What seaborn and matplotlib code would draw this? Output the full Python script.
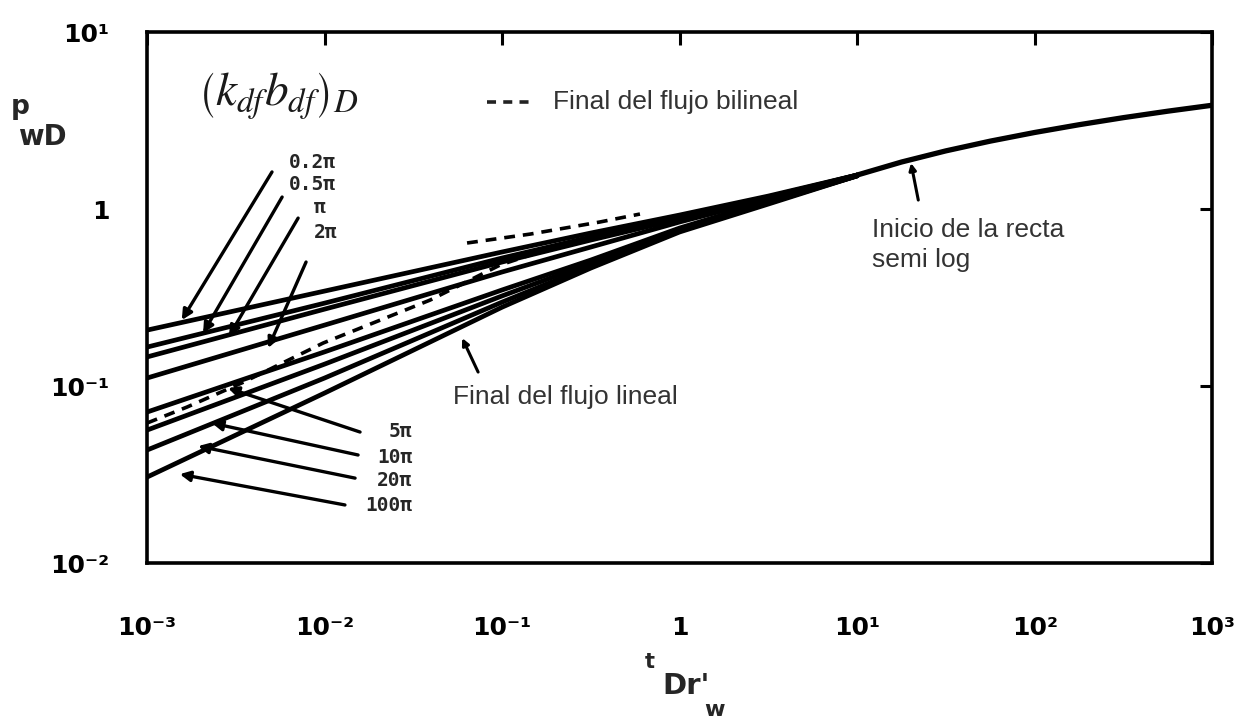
import numpy as np
import pandas as pd
import matplotlib
matplotlib.use("Agg")
import matplotlib.pyplot as plt
import seaborn as sns

# Dimensionless time t_Dr'w at which each curve was read
t_grid = [0.001, 0.01, 0.1, 0.316, 1.0, 3.16, 10.0]

# Dimensionless wellbore pressure p_wD for each fracture conductivity (k_df b_df)_D
curve_labels = ["0.2π", "0.5π", "π", "2π", "5π", "10π", "20π", "100π"]
p_02pi = [0.207, 0.344, 0.572, 0.732, 0.925, 1.184, 1.556]
p_05pi = [0.166, 0.294, 0.529, 0.695, 0.901, 1.169, 1.556]
p_1pi = [0.146, 0.272, 0.502, 0.668, 0.878, 1.154, 1.556]
p_2pi = [0.111, 0.221, 0.441, 0.610, 0.845, 1.139, 1.556]
p_5pi = [0.0713, 0.156, 0.349, 0.515, 0.781, 1.110, 1.540]
p_10pi = [0.0564, 0.133, 0.323, 0.495, 0.761, 1.095, 1.540]
p_20pi = [0.0435, 0.111, 0.298, 0.476, 0.751, 1.081, 1.540]
p_100pi = [0.0306, 0.0913, 0.279, 0.464, 0.742, 1.067, 1.540]

# Common semi-log tail
t_tail = [10.0, 17.8, 31.6, 56.2, 100.0, 178.0, 316.0, 562.0, 1000.0]
p_tail = [1.556, 1.844, 2.131, 2.419, 2.707, 2.995, 3.283, 3.571, 3.858]

# End of bilinear flow (dashed locus)
t_bil_low = [0.001, 0.00168, 0.00348, 0.00982, 0.0393, 0.0975, 0.212]
p_bil_low = [0.0618, 0.0761, 0.105, 0.175, 0.306, 0.483, 0.626]
t_bil_high = [0.0635, 0.144, 0.356, 0.598]
p_bil_high = [0.643, 0.722, 0.845, 0.937]

x_ticks = [1e-3, 1e-2, 1e-1, 1, 10, 100, 1000]
x_ticklabels = ["10⁻³", "10⁻²", "10⁻¹", "1", "10¹", "10²", "10³"]
y_ticks = [1e-2, 1e-1, 1, 10]
y_ticklabels = ["10⁻²", "10⁻¹", "1", "10¹"]

sns.set_style("white")
plt.rcParams["font.family"] = ["DejaVu Sans"]
plt.rcParams["mathtext.fontset"] = "stix"

all_curves = [p_02pi, p_05pi, p_1pi, p_2pi, p_5pi, p_10pi, p_20pi, p_100pi]
rows = []
for lab, vals in zip(curve_labels, all_curves):
    for t, p in zip(t_grid, vals):
        rows.append({"t": t, "p": p, "curve": lab})
df = pd.DataFrame(rows)
tail_df = pd.DataFrame({"t": t_tail, "p": p_tail})

fig = plt.figure(figsize=(12.51, 7.21), dpi=100)
ax = fig.add_axes([0.1175, 0.219, 0.8515, 0.7366])

LW = 3.4
sns.lineplot(data=df, x="t", y="p", hue="curve", palette=["black"] * 8,
             estimator=None, sort=False, legend=False, lw=LW, ax=ax)
sns.lineplot(data=tail_df, x="t", y="p", color="black", lw=LW + 0.4,
             estimator=None, sort=False, ax=ax)
ax.plot(t_bil_low, p_bil_low, color="black", lw=2.6, ls=(0, (3, 2.2)))
ax.plot(t_bil_high, p_bil_high, color="black", lw=2.6, ls=(0, (3, 2.2)))

ax.set_xscale("log")
ax.set_yscale("log")
ax.set_xlim(1e-3, 1e3)
ax.set_ylim(1e-2, 1e1)
ax.set_xticks(x_ticks)
ax.set_xticklabels(x_ticklabels)
ax.set_yticks(y_ticks)
ax.set_yticklabels(y_ticklabels)
ax.minorticks_off()
ax.tick_params(axis="both", which="major", direction="in", length=9, width=2.2,
               top=True, right=True, labelsize=18, colors="black")
ax.tick_params(axis="x", pad=38)
ax.tick_params(axis="y", pad=27)
for lbl in ax.get_xticklabels() + ax.get_yticklabels():
    lbl.set_fontweight("bold")
for s in ax.spines.values():
    s.set_linewidth(2.6)
    s.set_color("black")
ax.set_xlabel("")
ax.set_ylabel("")

# Axis titles
fig.text(20 / 1251, 1 - 107 / 721, "p", fontsize=19, fontweight="bold", ha="center", va="center")
fig.text(42 / 1251, 1 - 137 / 721, "wD", fontsize=20, fontweight="bold", ha="center", va="center")
fig.text(650 / 1251, 1 - 662 / 721, "t", fontsize=15, fontweight="bold", ha="center", va="center")
fig.text(686 / 1251, 1 - 686 / 721, "Dr'", fontsize=21, fontweight="bold", ha="center", va="center")
fig.text(714 / 1251, 1 - 710 / 721, "w", fontsize=16, fontweight="bold", ha="center", va="center")

# Parameter name
ax.text(0.123, 0.880, r"$\left(k_{df}b_{df}\right)_D$", transform=ax.transAxes,
        fontsize=34, ha="center", va="center", color="#1a1a1a")

# Curve labels with pointer arrows (label position, arrow tail, arrow tip)
lab_font = dict(fontsize=14, fontweight="bold", family="DejaVu Sans Mono")
upper_labels = [
    ("0.2π", (0.155, 0.755), (0.00506, 1.62), (0.00157, 0.236)),
    ("0.5π", (0.155, 0.712), (0.00577, 1.169), (0.00207, 0.199)),
    ("π", (0.162, 0.670), (0.00710, 0.889), (0.00290, 0.1916)),
    ("2π", (0.168, 0.622), (0.00787, 0.502), (0.00481, 0.164)),
]
lower_labels = [
    ("5π", (0.249, 0.247), (0.01585, 0.0550), (0.00286, 0.0975)),
    ("10π", (0.249, 0.198), (0.01545, 0.0408), (0.00232, 0.0618)),
    ("20π", (0.249, 0.156), (0.01486, 0.0302), (0.00194, 0.0458)),
    ("100π", (0.249, 0.109), (0.01303, 0.0213), (0.00153, 0.0318)),
]
arrow_kw = dict(arrowstyle="-|>", lw=2.4, color="black", mutation_scale=15,
                shrinkA=0, shrinkB=0)
for text, pos, tail, tip in upper_labels:
    ax.text(pos[0], pos[1], text, transform=ax.transAxes, ha="center", va="center", **lab_font)
    ax.annotate("", xy=tip, xytext=tail, arrowprops=arrow_kw)
for text, pos, tail, tip in lower_labels:
    ax.text(pos[0], pos[1], text, transform=ax.transAxes, ha="right", va="center", **lab_font)
    ax.annotate("", xy=tip, xytext=tail, arrowprops=arrow_kw)

# Flow regime notes
note_kw = dict(fontsize=19, color="#333333", family="Liberation Sans")
ax.plot([0.319, 0.360], [0.868, 0.868], transform=ax.transAxes, color="#222222",
        lw=2.6, ls=(0, (2.5, 2)))
ax.text(0.381, 0.868, "Final del flujo bilineal", transform=ax.transAxes,
        ha="left", va="center", **note_kw)
ax.text(0.287, 0.3126, "Final del flujo lineal", transform=ax.transAxes,
        ha="left", va="center", **note_kw)
ax.text(0.681, 0.599, "Inicio de la recta\nsemi log", transform=ax.transAxes,
        ha="left", va="center", linespacing=1.3, **note_kw)
ax.annotate("", xy=(0.0596, 0.1867), xytext=(0.0733, 0.120),
            arrowprops=dict(arrowstyle="-|>", lw=2.2, color="black",
                            mutation_scale=10, shrinkA=0, shrinkB=0))
ax.annotate("", xy=(20.1, 1.82), xytext=(22.1, 1.124),
            arrowprops=dict(arrowstyle="-|>", lw=2.2, color="black",
                            mutation_scale=10, shrinkA=0, shrinkB=0))

fig.savefig("out.png", dpi=100, facecolor="white")
